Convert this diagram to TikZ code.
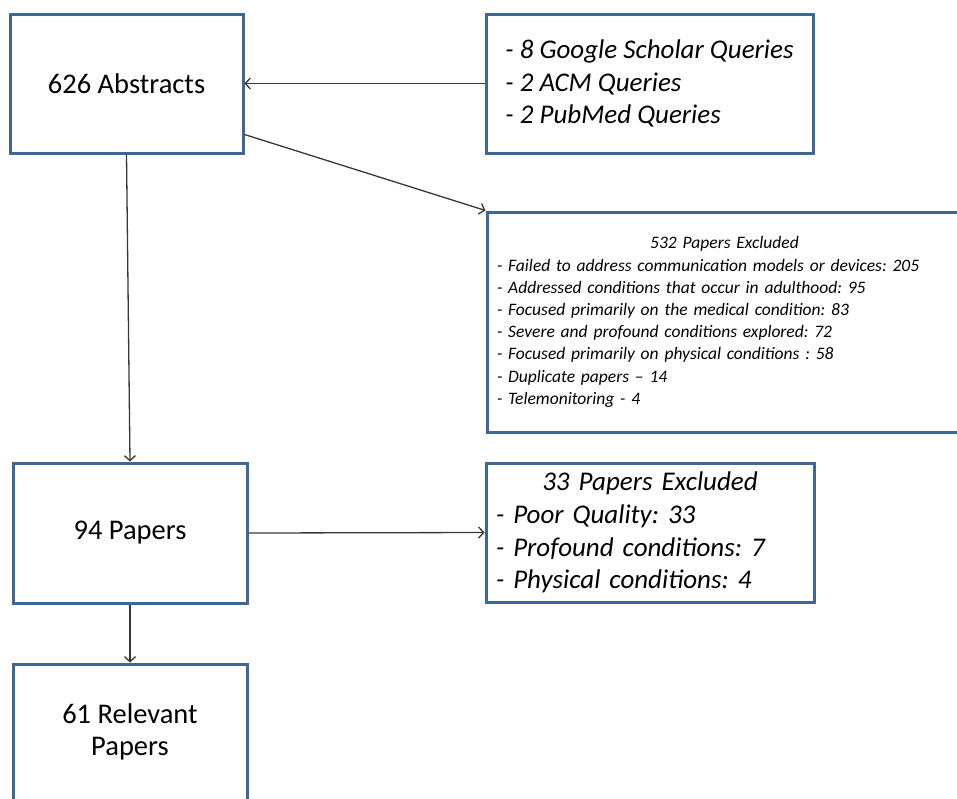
\documentclass[tikz,border=0pt]{standalone}
\usepackage{fontspec}
\setmainfont{Carlito}
\usetikzlibrary{arrows.meta}
\definecolor{boxblue}{RGB}{62,102,150}
\definecolor{linegray}{RGB}{55,55,55}
\frenchspacing

\begin{document}
\begin{tikzpicture}
[x=1pt,y=-1pt
,bx/.style={draw=boxblue,line width=3pt,fill=white,inner sep=0pt}
,big/.style={font=\fontsize{28.5}{32}\selectfont}
,lst/.style={font=\fontsize{27}{32.7}\selectfont\itshape,align=left}
,small/.style={font=\fontsize{17.5}{22.2}\selectfont\itshape,align=left}
,ln/.style={draw=linegray,line width=1.3pt,arrows={-{Straight Barb[length=5pt,width=11pt]}}}
]
\useasboundingbox (0,0) rectangle (957,798);
\node[bx,big,minimum width=233pt,minimum height=139pt] (abs) at (126.5,83.5) {626 Abstracts};
\node[bx,lst,minimum width=327pt,minimum height=139pt] (qry) at (649.5,83.5)
  {- 8 Google Scholar Queries\\- 2 ACM Queries\\- 2 PubMed Queries};
\node[bx,small,text width=455pt,inner xsep=10pt,minimum height=220pt] (exa) at (724.5,322)
  {{\centering 532 Papers Excluded\par}
   - Failed to address communication models or devices: 205\\
   - Addressed conditions that occur in adulthood: 95\\
   - Focused primarily on the medical condition: 83\\
   - Severe and profound conditions explored: 72\\
   - Focused primarily on physical conditions : 58\\
   - Duplicate papers -- 14\\
   - Telemonitoring - 4\par\vspace*{16pt}};
\node[bx,big,minimum width=234pt,minimum height=140pt] (pap) at (130,533) {94 Papers};
\node[bx,lst,text width=308pt,inner xsep=10pt,minimum height=139pt] (exb) at (650,532.5)
  {{\centering 33 Papers Excluded\par}
   - Poor Quality: 33\\
   - Profound conditions: 7\\
   - Physical conditions: 4};
\node[bx,big,align=center,minimum width=234pt,minimum height=136pt] (rel) at (130,732) {61 Relevant\\Papers};
\draw[ln] (qry.west) -- (abs.east);
\draw[ln] ([yshift=20pt]abs.south east) -- (exa.north west);
\draw[ln] (abs.south) -- (pap.north);
\draw[ln] (pap.east) -- (exb.west);
\draw[ln] (pap.south) -- (rel.north);
\end{tikzpicture}
\end{document}
